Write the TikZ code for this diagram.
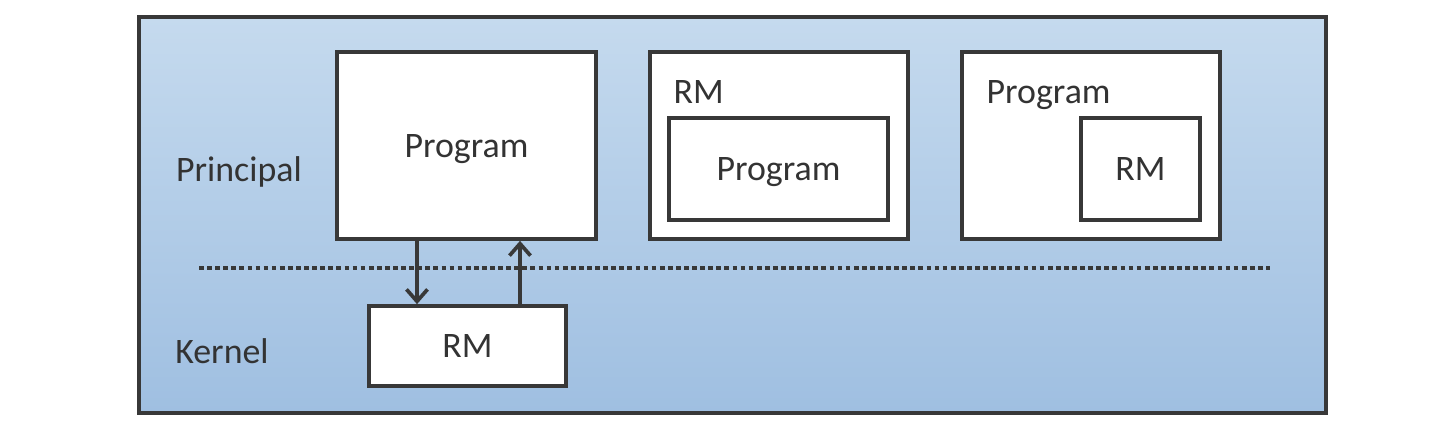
\documentclass[tikz,border=0pt]{standalone}
\usepackage{fontspec}
\setmainfont{Carlito}
\usepackage{xcolor}
\usetikzlibrary{arrows.meta, positioning}
\definecolor{rmline}{HTML}{383838}
\definecolor{rmtext}{HTML}{333333}
\definecolor{rmtop}{HTML}{C5DAEE}
\definecolor{rmbottom}{HTML}{9FBFE1}

\tikzset{
  box/.style={draw=rmline, line width=1.05pt, fill=white, text=rmtext, inner sep=0pt, text height=6.6pt, text depth=0pt},
  lbl/.style={text=rmtext, inner sep=0pt, text height=6.6pt, text depth=0pt},
  arr/.style={draw=rmline, line width=1.05pt, -{Straight Barb[length=1.2mm, width=2.1mm, line width=1.05pt]}},
  sep/.style={draw=rmline, line width=1.3pt, dash pattern=on 1.35pt off 0.95pt}
}

\begin{document}
\begin{tikzpicture}[y=-1cm, font=\fontsize{10.2}{12}\selectfont]
  \useasboundingbox (0,0) rectangle (14.54,4.30);
  % background frame
  \node[draw=rmline, line width=1.05pt, top color=rmtop, bottom color=rmbottom, minimum width=11.87cm, minimum height=3.96cm, inner sep=0pt] (frame) at (7.325,2.15) {};

  % principal level
  \node[lbl] (principal) at (2.39,1.70) {Principal};
  \node[box, minimum width=2.59cm, minimum height=1.87cm] (prog) at (4.665,1.455) {Program};

  \node[box, minimum width=2.58cm, minimum height=1.87cm] (wrap) at (7.79,1.455) {};
  \node[lbl, anchor=west] (wraplbl) at (6.73,0.92) {RM};
  \node[box, minimum width=2.19cm, minimum height=1.02cm] (wrapprog) at (7.785,1.69) {Program};

  \node[box, minimum width=2.58cm, minimum height=1.87cm] (inl) at (10.91,1.455) {};
  \node[lbl, anchor=west] (inllbl) at (9.86,0.92) {Program};
  \node[box, minimum width=1.19cm, minimum height=1.02cm] (inlrm) at (11.405,1.69) {RM};

  % boundary
  \coordinate (sepl) at (1.99,2.68);
  \coordinate (sepr) at (12.70,2.68);
  \draw[sep] (sepl) -- (sepr);

  % kernel level
  \node[lbl] (kernel) at (2.22,3.52) {Kernel};
  \node[box, minimum width=1.97cm, minimum height=0.80cm] (krm) at (4.675,3.46) {RM};

  % calls
  \coordinate (dn) at (4.17,0);
  \coordinate (up) at (5.20,0);
  \draw[arr] (prog.south -| dn) -- (krm.north -| dn);
  \draw[arr] (krm.north -| up) -- (prog.south -| up);
\end{tikzpicture}
\end{document}
